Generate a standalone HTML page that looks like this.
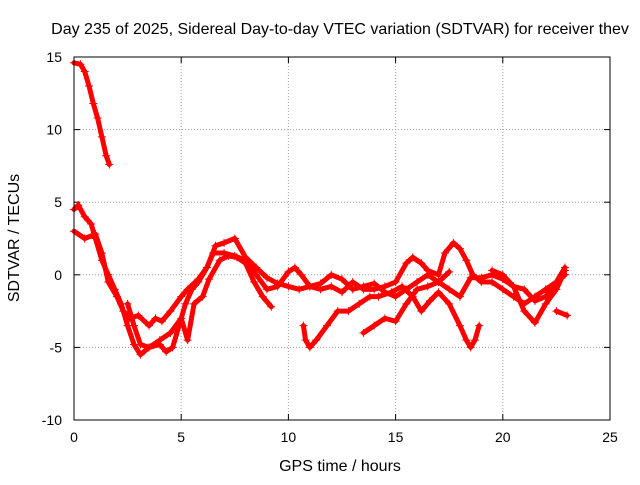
<!DOCTYPE html>
<html><head><meta charset="utf-8"><style>
body{margin:0;background:#fff}
svg text{font-family:"Liberation Sans",sans-serif;font-size:14px;fill:#000}
svg text.big{font-size:16px}
</style></head><body>
<svg id="chart" width="640" height="480">
<rect width="640" height="480" fill="#fff"/>
<text class="big" x="340" y="34" text-anchor="middle">Day 235 of 2025, Sidereal Day-to-day VTEC variation (SDTVAR) for receiver thev</text>
<text class="big" x="340" y="471" text-anchor="middle">GPS time / hours</text>
<text class="big" transform="translate(19,238) rotate(-90)" text-anchor="middle">SDTVAR / TECUs</text>
<g id="grid"></g><g id="axes"></g><g id="series"></g>
<rect x="74" y="57" width="536" height="363" fill="none" stroke="#000"/>
</svg>
<script>
const xTicks=[0,5,10,15,20,25];
const yTicks=[-10,-5,0,5,10,15];
const traceA=[[0,14.6],[0.3,14.5],[0.5,14.0],[0.7,13],[0.9,11.8],[1.1,10.8],[1.3,9.5],[1.5,8.2],[1.65,7.6]];
const traceB=[[0,4.5],[0.2,4.8],[0.5,4],[0.8,3.5],[1.0,2.5],[1.3,1],[1.6,0],[1.9,-1],[2.2,-2],[2.5,-3.5],[2.8,-4.8],[3.1,-5.5],[3.5,-5],[4,-4.8],[4.3,-5.3],[4.6,-5],[4.9,-3.5],[5.2,-2],[5.5,-1],[5.8,-0.5],[6.2,0.5],[6.5,1.5],[7,1.5],[7.5,1.3],[8,1],[8.5,0],[9,-1],[9.5,-0.8],[10,0.2],[10.3,0.5],[10.6,0],[11,-0.8],[11.5,-1],[12,-0.8],[12.5,-1.2],[13,-0.5],[13.5,-1],[14,-1],[14.5,-0.8],[15,-0.5],[15.5,0.8],[15.8,1.2],[16.2,0.8],[16.5,0.3],[17,0],[17.3,1.5],[17.7,2.2],[18,1.8],[18.3,1],[18.6,0],[19,-0.5],[19.5,-0.5],[20,-1],[20.5,-1.5],[21,-2],[21.5,-1.5],[22,-1],[22.5,-0.5],[22.9,0.5]];
const traceC=[[0,3],[0.5,2.5],[1,2.8],[1.3,1.5],[1.6,-0.5],[2,-1.5],[2.3,-2.5],[2.6,-3],[3,-2.8],[3.5,-3.5],[3.8,-3],[4.1,-3.2],[4.5,-2.5],[5,-1.5],[5.3,-1],[5.8,-0.3],[6.2,0.5],[6.6,2],[7,2.2],[7.5,2.5],[8,1.2],[8.5,0.5],[9,-0.2],[9.5,-0.6],[10,-0.8],[10.5,-1],[11,-0.8],[11.5,-0.6],[12,0],[12.5,-0.3],[13,-1],[13.5,-0.8],[14,-0.6],[14.5,-1.2],[15,-1.5],[15.5,-1],[16,-0.5],[16.5,0],[17,-0.5],[17.5,-1],[18,-1.5],[18.5,-0.2],[19,-0.2],[19.5,0],[20,-0.3],[20.5,-0.8],[21,-1],[21.5,-1.8],[22,-1.5],[22.5,-0.5],[22.9,0]];
const traceD=[[2.5,-2],[2.8,-3.5],[3.1,-4.8],[3.5,-5],[4,-4.5],[4.5,-4],[5,-3],[5.3,-4.5],[5.6,-2],[6,-1.5],[6.3,-0.3],[6.8,1],[7.2,1.3],[7.6,1.2],[8,0.8],[8.4,-0.5],[8.8,-1.5],[9.2,-2.2]];
const traceE=[[10.7,-3.5],[10.8,-4.5],[11,-5],[11.3,-4.5],[11.8,-3.5],[12.3,-2.5],[12.8,-2.5],[13.3,-2],[13.8,-1.5],[14.2,-1.5],[14.8,-1.2],[15.3,-0.8],[15.8,-1.5],[16.2,-2.5],[16.6,-1.8],[17,-1.2],[17.5,-2],[18,-3.5],[18.3,-4.5],[18.5,-5],[18.7,-4.5],[18.9,-3.5]];
const traceF=[[13.5,-4],[14,-3.5],[14.5,-3],[15,-3.2],[15.5,-2],[16,-1],[16.5,-0.8],[17,-0.5],[17.5,0.2]];
const traceG=[[22.5,-2.5],[23,-2.8]];
const traceH=[[19.5,0.3],[20,0],[20.5,-0.8],[21,-2.5],[21.5,-3.3],[22,-2],[22.5,-1],[22.9,0.3]];
const traces=[traceA,traceB,traceC,traceD,traceE,traceF,traceG,traceH];

const NS="http://www.w3.org/2000/svg";
const X=v=>74+v*(536/25);
const Y=v=>420-(v+10)*(363/25);
function mk(t,p,a){const e=document.createElementNS(NS,t);for(const k in a)e.setAttribute(k,a[k]);p.appendChild(e);return e;}
const grid=document.getElementById('grid'),axes=document.getElementById('axes'),ser=document.getElementById('series');
xTicks.forEach(t=>{
  if(t>0&&t<25){const g=mk('line',grid,{x1:X(t),x2:X(t),y1:57,y2:420,stroke:'#a0a0a0','stroke-dasharray':'1,2'});
  
  }
  mk('line',axes,{x1:X(t),x2:X(t),y1:420,y2:414,stroke:'#000'});
  mk('line',axes,{x1:X(t),x2:X(t),y1:57,y2:63,stroke:'#000'});
  const l=mk('text',axes,{x:X(t),y:442,'text-anchor':'middle'});l.textContent=t;
  
  
});
yTicks.forEach(t=>{
  if(t>-10&&t<15){const g=mk('line',grid,{x1:74,x2:610,y1:Y(t),y2:Y(t),stroke:'#a0a0a0','stroke-dasharray':'1,2'});
  
  }
  mk('line',axes,{x1:74,x2:80,y1:Y(t),y2:Y(t),stroke:'#000'});
  mk('line',axes,{x1:610,x2:604,y1:Y(t),y2:Y(t),stroke:'#000'});
  const l=mk('text',axes,{x:62,y:Y(t)+5,'text-anchor':'end'});l.textContent=t;
  
  
});
traces.forEach((tr,i)=>{
  const g=mk('g',ser,{});
  
  
  mk('polyline',g,{points:tr.map(p=>X(p[0])+','+Y(p[1])).join(' '),fill:'none',stroke:'#f00','stroke-width':5,'stroke-linejoin':'round','stroke-linecap':'round'});
  tr.forEach(p=>{const x=X(p[0]),y=Y(p[1]);
    mk('path',g,{d:`M${x-4},${y}H${x+4}M${x},${y-4}V${y+4}`,stroke:'#f00','stroke-width':1});});
});
</script>
</body></html>
